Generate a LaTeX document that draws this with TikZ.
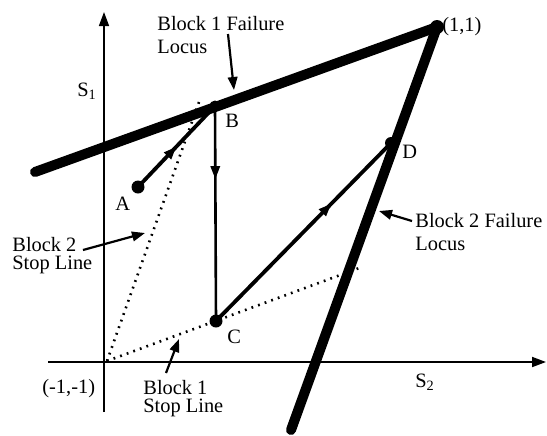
\documentclass[tikz,border=0pt]{standalone}
\usepackage{fontspec}
\setmainfont{Liberation Serif}
\usetikzlibrary{arrows.meta,decorations.markings}
\begin{document}
\begin{tikzpicture}[x=0.5pt,y=-0.5pt,
  every node/.style={font=\fontsize{10.2}{11.5}\selectfont, inner sep=0pt},
  dot/.style={circle,fill=black,inner sep=0pt,minimum size=#1},
  locus/.style={line width=5pt, line cap=round},
  axis/.style={line width=0.9pt,-{Triangle[length=7pt,width=5pt]}},
  stopline/.style={line width=1.3pt,dash pattern=on 0.9pt off 2.6pt},
  pointer/.style={line width=1.1pt,-{Triangle[length=6.5pt,width=4.8pt]}},
  trajectory/.style={line width=#1, postaction=decorate},
  midarrow/.style={decoration={markings,mark=at position #1 with {\arrow{Triangle[length=6.5pt,width=4.6pt]}}}},
  lab/.style={align=left,anchor=north west},
  stoplab/.style={align=left,anchor=north west,font=\fontsize{10.2}{9}\selectfont},
]
\useasboundingbox (0,0) rectangle (547,435);

% key points
\coordinate (O) at (107,361);
\coordinate (xs) at (48,362);
\coordinate (xe) at (546,362);
\coordinate (ys) at (104,412);
\coordinate (ye) at (104,12);
\coordinate (S2end) at (199,102);
\coordinate (S1end) at (362,267);
\coordinate (L1a) at (35,172);
\coordinate (L2b) at (291,430);

% stop lines
\draw[stopline] (O) -- (S2end);
\draw[stopline] (O) -- (S1end);

% axes
\draw[axis] (xs) -- (xe);
\draw[axis,line width=0.75pt] (ys) -- (ye);

% points
\node[dot=7pt] (P) at (437,27) {};
\node[dot=6.5pt] (A) at (138,187) {};
\node[dot=5.5pt] (B) at (215,106) {};
\node[dot=6.5pt] (C) at (216,321) {};
\node[dot=6pt] (D) at (391,143) {};

% failure loci
\draw[locus] (L1a) -- (P.center);
\draw[locus] (P.center) -- (L2b);

% load path
\draw[trajectory=1.9pt,midarrow=0.5] (A.center) -- (B.center);
\draw[trajectory=1.3pt,midarrow=0.34] (B.center) -- (C.center);
\draw[trajectory=1.9pt,midarrow=0.66] (C.center) -- (D.center);

% point labels
\node[anchor=base west] (lS1) at (77,96) {S\textsubscript{1}};
\node[anchor=base west] (lS2) at (415,387) {S\textsubscript{2}};
\node[anchor=base west] (lA) at (115,210) {A};
\node[anchor=base west] (lB) at (225,127) {B};
\node[anchor=base west] (lC) at (227,343) {C};
\node[anchor=base west] (lD) at (402,158) {D};
\node[anchor=base west] (l11) at (442,31) {(1,1)};
\node[anchor=base west] (lO) at (42,393) {(-1,-1)};

% descriptive labels
\node[lab] (t1) at (157,16) {Block 1 Failure\\Locus};
\node[lab] (t2) at (415,213) {Block 2 Failure\\Locus};
\node[stoplab] (t3) at (12,237) {Block 2\\Stop Line};
\node[stoplab] (t4) at (143,380) {Block 1\\Stop Line};

% pointers
\coordinate (p1s) at (228,34); \coordinate (p1e) at (234,90);
\coordinate (p2s) at (412,221); \coordinate (p2e) at (379,211);
\coordinate (p3s) at (83,250); \coordinate (p3e) at (145,233);
\coordinate (p4s) at (166,373); \coordinate (p4e) at (179,339);
\draw[pointer] (p1s) -- (p1e);
\draw[pointer] (p2s) -- (p2e);
\draw[pointer] (p3s) -- (p3e);
\draw[pointer] (p4s) -- (p4e);
\end{tikzpicture}
\end{document}
